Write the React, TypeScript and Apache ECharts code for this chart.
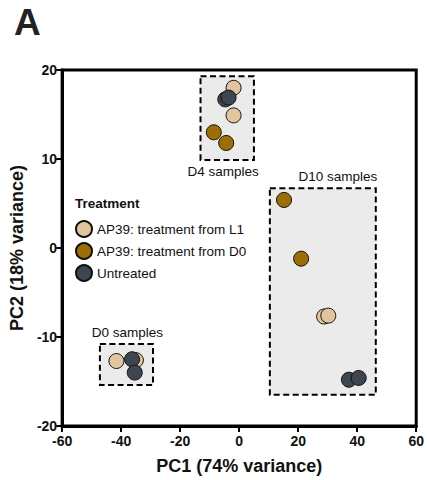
import React, { useEffect, useRef } from "react";
import * as echarts from "echarts";

const seriesNames = ["AP39: treatment from L1", "AP39: treatment from D0", "Untreated"];
const seriesColors = ["#E2C59C", "#9E6E02", "#3E4650"];

const treatedL1: number[][] = [
  [-1.9, 18.0], [-1.9, 14.9],
  [28.8, -7.7], [30.2, -7.6],
  [-41.6, -12.7], [-35.0, -12.6],
];
const treatedD0: number[][] = [
  [-8.6, 13.0], [-4.4, 11.8],
  [15.2, 5.4], [21.0, -1.2],
];
const untreated: number[][] = [
  [-4.7, 16.7], [-3.6, 16.9],
  [37.2, -14.8], [40.5, -14.6],
  [-36.3, -12.5], [-35.4, -14.0],
];

const boxNames = ["D4 samples", "D10 samples", "D0 samples"];
const boxX = [[-13.1, 5.0], [10.4, 46.3], [-47.2, -29.2]];
const boxY = [[9.9, 19.3], [-16.5, 6.7], [-15.4, -10.8]];
const boxLabelPos = ["bottom", "top", "top"];
const boxLabelOffset = [[-4, 0], [15, 0], [1, 0]];

const xTicks = { min: -60, max: 60, interval: 20 };
const yTicks = { min: -20, max: 20, interval: 10 };

const FONT = "'Liberation Sans', Arial, Helvetica, sans-serif";

export default function App() {
  const ref = useRef<HTMLDivElement>(null);
  useEffect(() => {
    if (!ref.current) return;
    const chart = echarts.init(ref.current, undefined, { renderer: "svg" });
    const dataSets = [treatedL1, treatedD0, untreated];
    const markData = boxNames.map((n, i) => [
      {
        name: n,
        coord: [boxX[i][0], boxY[i][1]],
        label: {
          show: true,
          position: boxLabelPos[i],
          offset: boxLabelOffset[i],
          color: "#111",
          fontSize: 13.5,
          fontFamily: FONT,
          distance: 4,
        },
      },
      { coord: [boxX[i][1], boxY[i][0]] },
    ]);
    const axisCommon = {
      type: "value",
      nameLocation: "middle",
      nameTextStyle: { fontSize: 18, fontWeight: "bold", color: "#111", fontFamily: FONT },
      axisLine: { show: true, onZero: false, lineStyle: { color: "#000", width: 3 } },
      axisTick: { show: true, length: 6, lineStyle: { color: "#000", width: 2 } },
      splitLine: { show: false },
    };
    chart.setOption({
      animation: false,
      textStyle: { fontFamily: FONT },
      grid: {
        left: 60,
        right: 9,
        top: 70,
        bottom: 54,
        show: true,
        borderColor: "#000",
        borderWidth: 3,
        backgroundColor: "transparent",
      },
      graphic: [
        {
          type: "text",
          left: 14,
          top: 4,
          style: { text: "A", fontSize: 37, fontWeight: "bold", fill: "#222", fontFamily: FONT },
        },
        {
          type: "text",
          left: 75,
          top: 196,
          style: { text: "Treatment", fontSize: 13.5, fontWeight: "bold", fill: "#111", fontFamily: FONT },
        },
      ],
      legend: {
        orient: "vertical",
        left: 70,
        top: 215,
        itemWidth: 16,
        itemHeight: 16,
        itemGap: 4,
        icon: "circle",
        data: seriesNames,
        textStyle: { fontSize: 13.5, color: "#111", fontFamily: FONT },
      },
      xAxis: {
        ...axisCommon,
        min: xTicks.min,
        max: xTicks.max,
        interval: xTicks.interval,
        name: "PC1 (74% variance)",
        nameGap: 31,
        axisLabel: { fontSize: 14, fontWeight: "bold", color: "#111", margin: 8, fontFamily: FONT },
      },
      yAxis: {
        ...axisCommon,
        min: yTicks.min,
        max: yTicks.max,
        interval: yTicks.interval,
        name: "PC2 (18% variance)",
        nameGap: 35,
        axisLabel: { fontSize: 14, fontWeight: "bold", color: "#111", margin: 5, fontFamily: FONT },
      },
      series: [
        {
          type: "scatter",
          name: "boxes",
          data: [],
          silent: true,
          markArea: {
            silent: true,
            itemStyle: {
              color: "#EBEBEB",
              opacity: 1,
              borderColor: "#000",
              borderWidth: 2,
              borderType: [6, 3.5],
            },
            data: markData,
          },
        },
        ...seriesNames.map((n, i) => ({
          type: "scatter",
          name: n,
          data: dataSets[i],
          symbol: "circle",
          symbolSize: 15,
          itemStyle: { color: seriesColors[i], borderColor: "#111", borderWidth: 1, opacity: 1 },
        })),
      ],
    });
    return () => chart.dispose();
  }, []);
  return <div ref={ref} style={{ width: 427, height: 480, position: "absolute", left: 0, top: 0 }} />;
}
